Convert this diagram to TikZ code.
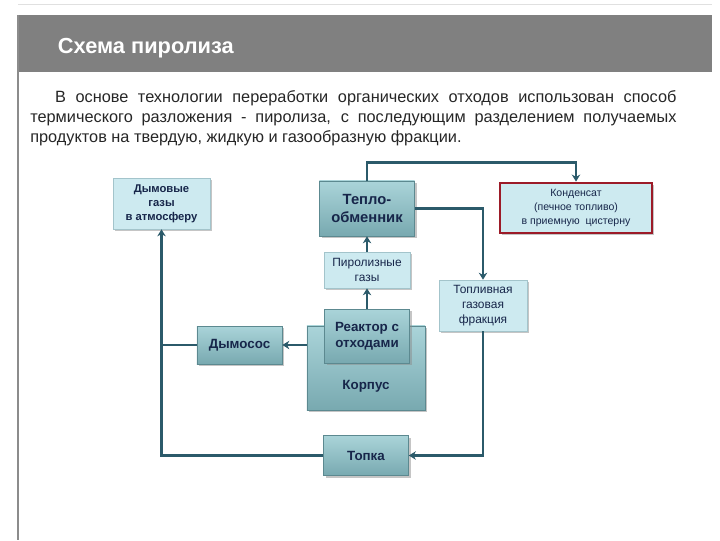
\documentclass[tikz,border=0pt]{standalone}
\usepackage{fontspec}
\setmainfont{Liberation Sans}
\usepackage{tikz}
\usetikzlibrary{shapes,arrows.meta,positioning,calc,shadows}
\definecolor{pyrohead}{HTML}{808080}
\definecolor{pyroedge}{HTML}{8C8C8C}
\definecolor{pyroline}{HTML}{2B5A6A}
\definecolor{pyrolight}{HTML}{CDEAF0}
\definecolor{pyrolightedge}{HTML}{A3C4CB}
\definecolor{pyrotealtop}{HTML}{AAD4D9}
\definecolor{pyrotealbot}{HTML}{78A9B0}
\definecolor{pyrotealedge}{HTML}{5C8990}
\definecolor{pyrored}{HTML}{9C1B28}
\definecolor{pyrotext}{HTML}{17264A}
\tikzstyle{arrow} = [-{Stealth[length=5pt,width=6pt]}, line width=2pt, pyroline]
\tikzstyle{pipe} = [line width=2pt, pyroline]
\tikzstyle{lightbox} = [draw=pyrolightedge, fill=pyrolight, text=pyrotext, align=center, inner sep=1pt,
  drop shadow={shadow xshift=1.5pt, shadow yshift=-1.5pt, fill=black!45, opacity=.5}]
\tikzstyle{tealbox} = [draw=pyrotealedge, top color=pyrotealtop, bottom color=pyrotealbot, text=pyrotext,
  align=center, inner sep=1pt, font=\bfseries\fontsize{9.5}{11}\selectfont,
  drop shadow={shadow xshift=1.5pt, shadow yshift=-1.5pt, fill=black!45, opacity=.5}]

\begin{document}
\begin{tikzpicture}[x=0.025cm, y=-0.025cm]
\useasboundingbox (0,0) rectangle (720,540);
% slide frame and title
\draw[black!12] (18,4) -- (712,4);
\fill[pyrohead] (18,15) rectangle (712,72);
\draw[pyroedge, line width=1.5pt] (18,15) -- (18,540);
\node[white, font=\bfseries\fontsize{15.5}{18}\selectfont, anchor=west] (title) at (53,48) {Схема пиролиза};
\node[anchor=north west, text width=16.15cm, align=justify, inner sep=0pt,
  font=\fontsize{11.6}{14.2}\selectfont, text=black!85] (intro) at (30,90)
  {\hspace*{0.62cm}В основе технологии переработки органических отходов использован способ термического разложения - пиролиза, с последующим разделением получаемых продуктов на твердую, жидкую и газообразную фракции.};

% boxes
\node[lightbox, minimum width=2.425cm, minimum height=1.275cm, font=\bfseries\fontsize{8}{10}\selectfont]
  (smoke) at (161.5,203.5) {Дымовые\\газы\\в атмосферу};
\node[tealbox, minimum width=2.375cm, minimum height=1.375cm, font=\bfseries\fontsize{10.5}{13}\selectfont]
  (heatex) at (367,208.5) {Тепло-\\обменник};
\node[lightbox, draw=pyrored, line width=2pt, minimum width=3.8cm, minimum height=1.25cm,
  font=\fontsize{7.5}{10}\selectfont] (cond) at (576,208) {Конденсат\\(печное топливо)\\в приемную\ \ цистерну};
\node[lightbox, minimum width=2.15cm, minimum height=0.9cm, font=\fontsize{8.5}{10.5}\selectfont]
  (pgas) at (367,270) {Пиролизные\\газы};
\node[lightbox, minimum width=2.2cm, minimum height=1.275cm, font=\fontsize{8.5}{10.5}\selectfont]
  (fuel) at (483,305.5) {Топливная\\газовая\\фракция};
\node[tealbox, minimum width=2.95cm, minimum height=2.1cm,
  label={[pyrotext, font=\bfseries\fontsize{9.5}{11}\selectfont, yshift=-0.45cm]center:Корпус}]
  (body) at (366,368) {};
\node[tealbox, minimum width=2.125cm, minimum height=1.35cm] (reactor) at (367,336) {Реактор с\\отходами};
\node[tealbox, minimum width=2.125cm, minimum height=0.95cm] (fan) at (239.5,345) {Дымосос};
\node[tealbox, minimum width=2.125cm, minimum height=1.0cm] (furnace) at (366,455.5) {Топка};

% connectors
\draw[arrow] (heatex.north) -- ++(0,-18) -| (cond.north);
\draw[arrow] (heatex.east) -| (fuel.north);
\draw[arrow] (fuel.south) |- (furnace.east);
\draw[arrow] (furnace.west) -| (smoke.south);
\draw[arrow] (pgas.north) -- (heatex.south);
\draw[arrow] (reactor.north) -- (pgas.south);
\draw[arrow] (fan.east -| body.west) -- (fan.east);
\draw[pipe] (fan.west) -- (fan.west -| smoke.south);
\end{tikzpicture}
\end{document}
